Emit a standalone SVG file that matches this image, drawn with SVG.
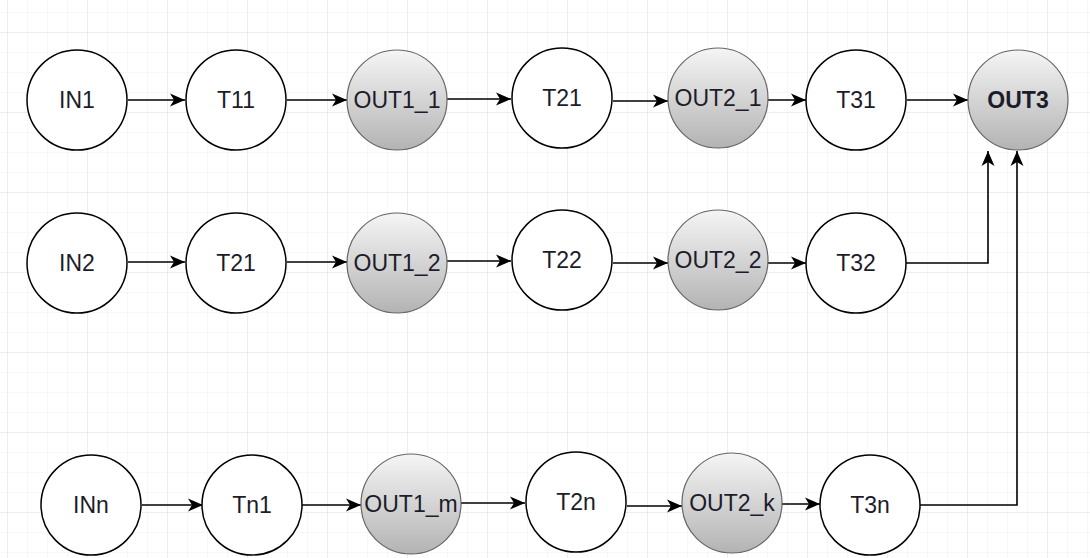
<svg xmlns="http://www.w3.org/2000/svg" width="1090" height="558" viewBox="0 0 1090 558">
<defs>
<pattern id="minor" x="7" y="12" width="20" height="20" patternUnits="userSpaceOnUse">
<path d="M0,0 H20 M0,0 V20" fill="none" stroke="#f1f1f1" stroke-width="1"/>
</pattern>
<pattern id="major" x="7" y="32" width="80" height="80" patternUnits="userSpaceOnUse">
<path d="M0,0 H80 M0,0 V80" fill="none" stroke="#e2e2e2" stroke-width="1"/>
</pattern>
<linearGradient id="grey" x1="0" y1="0" x2="0" y2="1">
<stop offset="0" stop-color="#f5f5f5"/>
<stop offset="1" stop-color="#b3b3b3"/>
</linearGradient>
<marker id="arr" viewBox="0 0 15 14" markerWidth="9.4" markerHeight="8.75" refX="15" refY="7" orient="auto" markerUnits="strokeWidth">
<path d="M0,0.5 L15,7 L0,13.5 L4,7 Z" fill="#000"/>
</marker>
<style>
.w{fill:#fff;stroke:#000;stroke-width:1.5}
.g{fill:url(#grey);stroke:#666;stroke-width:1.2}
.t{font-family:"Liberation Sans",Arial,sans-serif;font-size:23px;fill:#1c1c2a;text-anchor:middle}
.b{font-weight:bold}
.c{fill:none;stroke:#000;stroke-width:1.6}
</style>
</defs>
<rect width="1090" height="558" fill="#fff"/>
<rect width="1090" height="558" fill="url(#minor)"/>
<rect width="1090" height="558" fill="url(#major)"/>

<g id="connectors" marker-end="url(#arr)">
<path class="c" marker-end="url(#arr)" d="M128,100 H185"/>
<path class="c" marker-end="url(#arr)" d="M287,100 H347"/>
<path class="c" marker-end="url(#arr)" d="M447,99 H511"/>
<path class="c" marker-end="url(#arr)" d="M613,101 H668"/>
<path class="c" marker-end="url(#arr)" d="M768,100 H806"/>
<path class="c" marker-end="url(#arr)" d="M907,100 H968"/>
<path class="c" marker-end="url(#arr)" d="M128,262 H185"/>
<path class="c" marker-end="url(#arr)" d="M287,262 H347"/>
<path class="c" marker-end="url(#arr)" d="M447,261 H511"/>
<path class="c" marker-end="url(#arr)" d="M613,263 H668"/>
<path class="c" marker-end="url(#arr)" d="M767,263 H806"/>
<path class="c" marker-end="url(#arr)" d="M906,263 H988 V151"/>
<path class="c" marker-end="url(#arr)" d="M142,505 H203"/>
<path class="c" marker-end="url(#arr)" d="M302,505 H361"/>
<path class="c" marker-end="url(#arr)" d="M461,503 H525"/>
<path class="c" marker-end="url(#arr)" d="M627,506 H682"/>
<path class="c" marker-end="url(#arr)" d="M782,504 H820"/>
<path class="c" marker-end="url(#arr)" d="M920,505 H1017 V151"/>
</g>

<g id="IN1"><circle class="w" cx="77" cy="100" r="50"/><text class="t" x="77" y="108">IN1</text></g>
<g id="T11"><circle class="w" cx="236" cy="100" r="50"/><text class="t" x="236" y="108">T11</text></g>
<g id="OUT1_1"><circle class="g" cx="397" cy="100" r="50"/><text class="t" x="397" y="108">OUT1_1</text></g>
<g id="T21_row1"><circle class="w" cx="562" cy="98" r="50"/><text class="t" x="562" y="106">T21</text></g>
<g id="OUT2_1"><circle class="g" cx="718" cy="98" r="50"/><text class="t" x="718" y="106">OUT2_1</text></g>
<g id="T31"><circle class="w" cx="856" cy="100" r="50"/><text class="t" x="856" y="108">T31</text></g>
<g id="OUT3"><circle class="g" cx="1018" cy="100" r="50"/><text class="t b" x="1018" y="108">OUT3</text></g>

<g id="IN2"><circle class="w" cx="77" cy="263" r="50"/><text class="t" x="77" y="271">IN2</text></g>
<g id="T21_row2"><circle class="w" cx="236" cy="263" r="50"/><text class="t" x="236" y="271">T21</text></g>
<g id="OUT1_2"><circle class="g" cx="397" cy="263" r="50"/><text class="t" x="397" y="271">OUT1_2</text></g>
<g id="T22"><circle class="w" cx="562" cy="260" r="50"/><text class="t" x="562" y="268">T22</text></g>
<g id="OUT2_2"><circle class="g" cx="718" cy="260" r="50"/><text class="t" x="718" y="268">OUT2_2</text></g>
<g id="T32"><circle class="w" cx="856" cy="263" r="50"/><text class="t" x="856" y="271">T32</text></g>

<g id="INn"><circle class="w" cx="91" cy="505" r="50"/><text class="t" x="91" y="513">INn</text></g>
<g id="Tn1"><circle class="w" cx="252" cy="505" r="50"/><text class="t" x="252" y="513">Tn1</text></g>
<g id="OUT1_m"><circle class="g" cx="411" cy="504" r="50"/><text class="t" x="411" y="512">OUT1_m</text></g>
<g id="T2n"><circle class="w" cx="576" cy="502" r="50"/><text class="t" x="576" y="510">T2n</text></g>
<g id="OUT2_k"><circle class="g" cx="732" cy="503" r="50"/><text class="t" x="732" y="511">OUT2_k</text></g>
<g id="T3n"><circle class="w" cx="870" cy="505" r="50"/><text class="t" x="870" y="513">T3n</text></g>
</svg>
